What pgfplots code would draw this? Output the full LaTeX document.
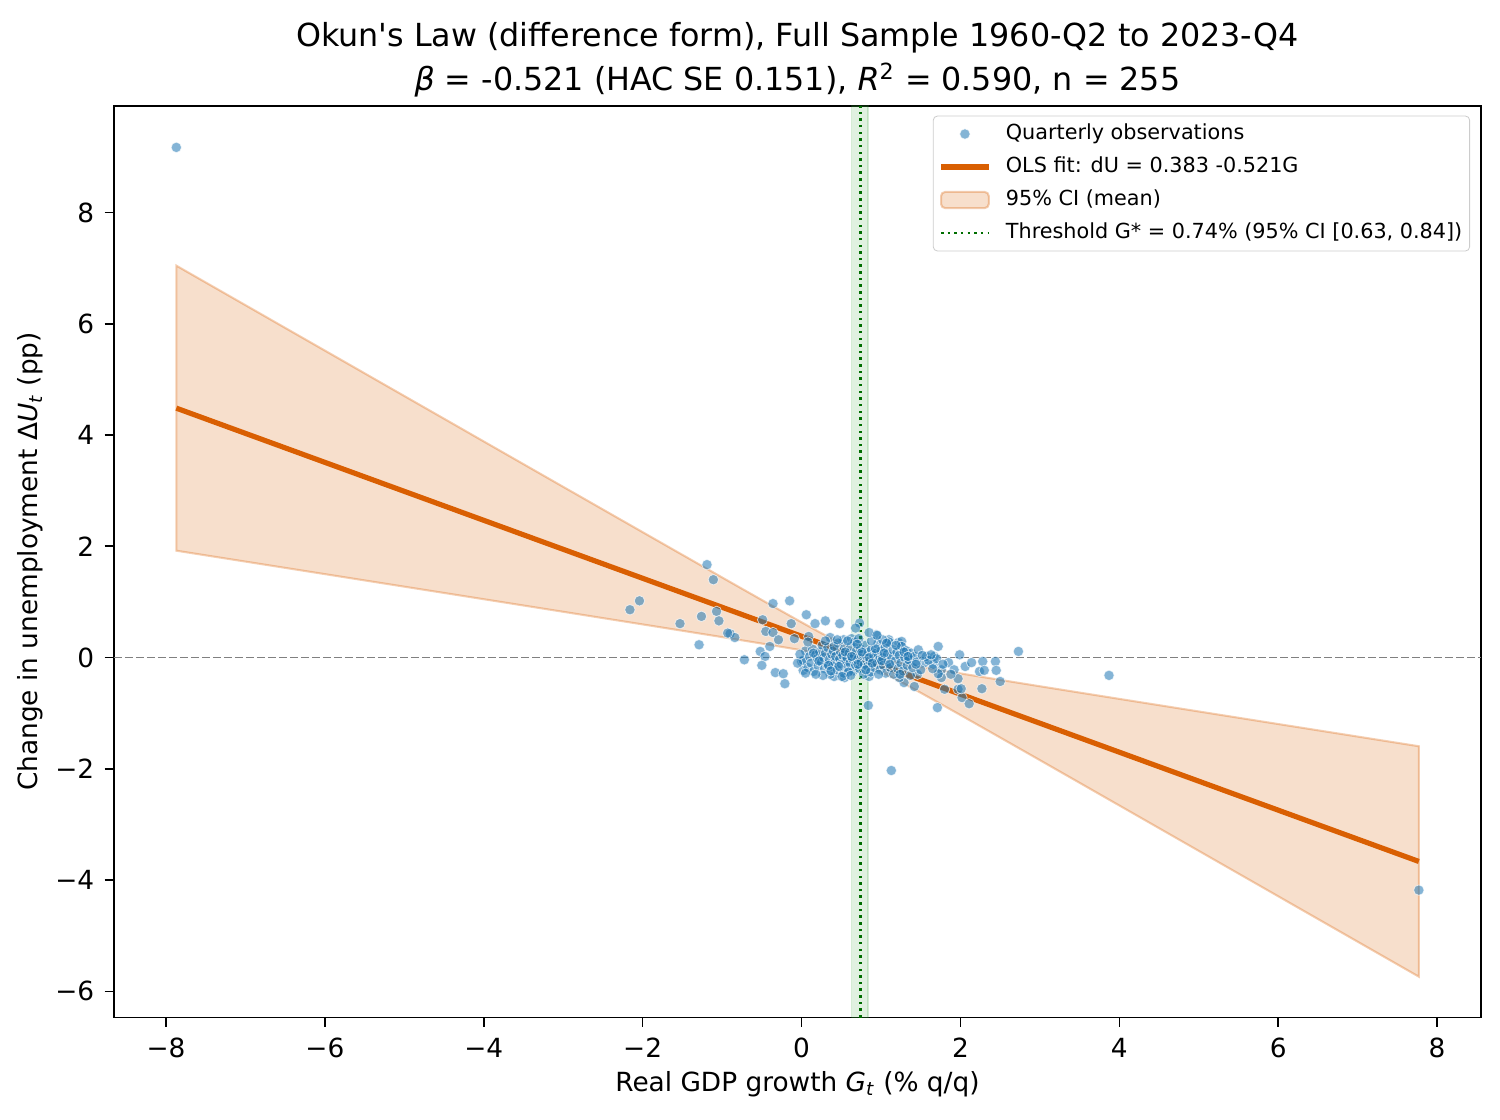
\documentclass[border=0pt]{standalone}
\usepackage{fontspec}
\setmainfont{DejaVu Sans}
\usepackage{pgfplots}
\pgfplotsset{compat=1.18}
\definecolor{tabblue}{RGB}{31,119,180}
\definecolor{okorange}{RGB}{217,95,2}
\definecolor{tabgreen}{RGB}{44,160,44}
\definecolor{dkgreen}{RGB}{0,110,0}
\definecolor{legedge}{RGB}{204,204,204}
\pgfplotsset{
  legline/.style={legend image code/.code={\draw[##1] (0pt,0pt) -- (23pt,0pt);}},
  legmark/.style={legend image code/.code={\draw[mark repeat=2,mark phase=2,##1] plot coordinates {(0pt,0pt) (11.5pt,0pt) (23pt,0pt)};}},
  legarea/.style={legend image code/.code={\draw[##1] (0pt,-3.9pt) rectangle (23pt,3.9pt);}},
}
\begin{document}
\begin{tikzpicture}
\begin{axis}[
  name=ax,
  scale only axis, width=658.6pt, height=439.3pt,
  xmin=-8.655, xmax=8.553, ymin=-6.47, ymax=9.92,
  axis line style={line width=0.8pt},
  tick style={line width=0.8pt, black},
  tick align=outside, major tick length=4.5pt, tick pos=left,
  xtick={-8,-6,-4,-2,0,2,4,6,8}, xticklabels={−8,−6,−4,−2,0,2,4,6,8},
  ytick={-6,-4,-2,0,2,4,6,8}, yticklabels={−6,−4,−2,0,2,4,6,8},
  ticklabel style={font=\fontsize{12.7}{15}\selectfont},
  xticklabel style={yshift=-2pt},
  yticklabel style={xshift=-1.5pt},
  label style={font=\fontsize{12.7}{15}\selectfont},
  xlabel={Real GDP growth \textit{G}\textsubscript{\textit{t}} (\% q/q)},
  ylabel={Change in unemployment Δ\textit{U}\textsubscript{\textit{t}} (pp)},
  xlabel style={at={(axis description cs:0.5,-0.0806)}, anchor=base},
  ylabel style={at={(axis description cs:-0.0556,0.5)}, anchor=base},
  title={Okun\textquotesingle s Law (difference form), Full Sample 1960-Q2 to 2023-Q4\\\textit{β} = -0.521 (HAC SE 0.151), \textit{R}\textsuperscript{2} = 0.590, n = 255},
  title style={font=\fontsize{15.3}{21}\selectfont, align=center, at={(axis description cs:0.5,1)}, anchor=south, inner sep=0pt, yshift=-1.9pt},
  legend style={at={(1,1)}, anchor=north east, xshift=-5.3pt, yshift=-4.8pt, draw=legedge, rounded corners=2pt, font=\fontsize{10}{12}\selectfont, cells={anchor=west}, row sep=4.6pt, column sep=6pt, inner xsep=2.5pt, inner ysep=3pt, nodes={inner xsep=1pt, inner ysep=1pt, text height=7.5pt, text depth=1.8pt}},
  legend cell align=left,
]
% CI band
\addplot[fill=okorange, fill opacity=0.2, draw=okorange, draw opacity=0.3, line width=1pt, forget plot] coordinates {
(-7.87,7.045) (-6,5.518) (-4,3.885) (-3,3.069) (-2,2.254) (-1,1.440) (-0.5,1.035) (0,0.634) (0.25,0.438) (0.5,0.251) (0.78,0.075) (1,-0.020) (1.25,-0.098) (1.5,-0.164) (2,-0.285) (2.5,-0.401) (3,-0.516) (4,-0.743) (5,-0.969) (6,-1.195) (7.77,-1.594)
(7.77,-5.736) (6,-4.291) (5,-3.475) (4,-2.659) (3,-1.844) (2.5,-1.438) (2,-1.033) (1.5,-0.633) (1.25,-0.438) (1,-0.256) (0.78,-0.121) (0.5,-0.006) (0.25,0.068) (0,0.132) (-0.5,0.252) (-1,0.368) (-2,0.596) (-3,0.823) (-4,1.049) (-6,1.500) (-7.87,1.921)} -- cycle;
% threshold CI span
\addplot[fill=tabgreen, fill opacity=0.15, draw=tabgreen, draw opacity=0.2, line width=0.8pt, forget plot] coordinates {(0.63,-6.47) (0.84,-6.47) (0.84,9.92) (0.63,9.92)} -- cycle;
% zero line
\addplot[black!50, line width=0.9pt, dash pattern=on 3.7pt off 1.6pt, forget plot] coordinates {(-8.655,0) (8.553,0)};
% scatter
\addplot[only marks, mark=*, mark size=2.5pt, mark options={fill=tabblue, fill opacity=0.55, draw=white, draw opacity=0.7, line width=0.35pt}, forget plot] coordinates {
(-7.87,9.17) (7.77,-4.18) (3.87,-0.32) (2.73,0.11) (1.13,-2.03) (0.84,-0.86) (1.71,-0.90)
(-1.19,1.67) (-1.11,1.40) (-2.04,1.02) (-2.16,0.86) (-1.53,0.61) (-1.26,0.74) (-1.07,0.83) (-1.04,0.66) (-1.29,0.23) (-0.90,0.43) (-0.84,0.36) (-0.93,0.44) (-0.72,-0.04) (-0.36,0.97) (-0.15,1.02) (-0.49,0.68) (-0.45,0.47) (-0.36,0.45) (-0.29,0.32) (-0.40,0.20) (-0.52,0.11) (-0.46,0.02) (-0.50,-0.14) (-0.33,-0.27) (-0.23,-0.29) (-0.21,-0.47) (-0.13,0.61) (-0.09,0.34) (0.06,0.77) (0.17,0.61) (0.30,0.66) (0.48,0.61) (0.09,0.38) (0.0,-0.07) (0.02,-0.23)
(0.73,0.62) (0.68,0.53) (0.94,0.41) (1.10,0.32) (1.22,0.27) (0.36,0.36) (0.53,0.32) (0.63,0.34) (0.41,-0.34) (0.54,-0.36) (0.85,-0.34)
(1.72,0.20) (1.99,0.05) (1.29,-0.45) (1.42,-0.52) (1.55,-0.09) (1.66,-0.12) (1.76,-0.22) (1.85,-0.09) (1.92,-0.22) (2.06,-0.16) (2.14,-0.09) (2.28,-0.07) (2.44,-0.07) (2.24,-0.25) (2.30,-0.23) (2.45,-0.23) (2.50,-0.43) (2.27,-0.56) (1.97,-0.38) (1.97,-0.57) (2.02,-0.72) (2.11,-0.83) (1.80,-0.57) (1.76,-0.36) (1.72,-0.29) (1.23,-0.36) (1.57,0.02) (1.67,0.02) (2.01,-0.56) (1.34,-0.04) (1.29,0.14) (1.26,0.29) (1.60,-0.05) (1.70,-0.02) (1.63,0.05) (1.78,-0.12) (1.88,-0.30) (1.65,-0.20) (1.46,-0.30)
(0.02,-0.05) (0.05,0.12) (0.08,-0.18) (0.10,0.02) (0.12,-0.10) (0.14,0.15) (0.15,-0.25) (0.18,0.05) (0.20,-0.02) (0.21,-0.15) (0.23,0.10) (0.25,-0.08) (0.26,0.22) (0.28,0.00) (0.29,-0.20) (0.30,0.08) (0.32,-0.12) (0.33,0.18) (0.35,-0.04) (0.36,-0.30) (0.38,0.06) (0.39,-0.16) (0.40,0.12) (0.42,-0.08) (0.43,0.02) (0.45,-0.22) (0.46,0.26) (0.48,-0.02) (0.49,0.10) (0.50,-0.12) (0.52,0.04) (0.53,-0.28) (0.54,0.16) (0.56,-0.06) (0.57,0.00) (0.58,-0.18) (0.60,0.08) (0.61,-0.10) (0.62,0.20) (0.64,-0.02) (0.65,-0.24) (0.66,0.05) (0.68,-0.14) (0.69,0.12) (0.70,-0.04) (0.72,0.00) (0.73,-0.20) (0.74,0.16) (0.75,-0.08) (0.77,0.06) (0.78,-0.30) (0.79,-0.12) (0.80,0.22) (0.82,0.02) (0.83,-0.16) (0.84,0.10) (0.86,-0.06) (0.87,-0.26) (0.88,0.14) (0.90,-0.02) (0.91,0.04) (0.92,-0.18) (0.94,0.08) (0.95,-0.10) (0.96,0.24) (0.98,-0.04) (0.99,-0.22) (1.00,0.12) (1.02,0.00) (1.03,-0.14) (1.05,0.18) (1.06,-0.28) (1.08,0.06) (1.09,-0.08) (1.10,0.28) (1.12,-0.18) (1.13,0.02) (1.15,0.14) (1.16,-0.30) (1.18,-0.06) (1.20,0.10) (1.21,-0.20) (1.23,0.04) (1.25,-0.10) (1.26,0.20) (1.28,-0.24) (1.30,0.00) (1.32,0.12) (1.33,-0.14) (1.35,-0.04) (1.37,-0.32) (1.38,0.08) (1.40,-0.18) (1.42,0.02) (1.45,-0.08) (1.47,0.14) (1.50,-0.22) (1.52,0.04)
(0.15,0.08) (0.22,-0.06) (0.34,-0.14) (0.41,0.20) (0.47,-0.16) (0.55,0.10) (0.59,-0.26) (0.63,0.02) (0.67,0.28) (0.71,-0.12) (0.76,0.10) (0.81,-0.22) (0.85,0.00) (0.89,-0.10) (0.93,0.16) (0.97,-0.30) (1.01,-0.06) (1.04,0.08) (1.11,-0.12) (1.19,0.22) (1.24,-0.30) (1.29,0.10) (1.34,0.02) (1.44,-0.12) (0.27,-0.32) (0.37,-0.24) (0.51,-0.34) (0.62,-0.32) (0.45,0.32) (0.58,0.30) (0.72,0.34) (0.88,0.30) (1.02,0.32) (0.18,-0.30) (0.05,-0.28) (-0.05,-0.10) (-0.02,0.06) (0.08,0.28) (0.30,0.30) (0.85,0.45) (0.95,0.40) (0.70,0.24) (1.07,0.26)
};
% OLS fit
\addplot[okorange, line width=2.5pt, forget plot] coordinates {(-7.87,4.483) (7.77,-3.665)};
% threshold
\addplot[dkgreen, line width=1.2pt, dash pattern=on 1.2pt off 2pt, forget plot] coordinates {(0.74,-6.47) (0.74,9.92)};
% legend
\addlegendimage{only marks, mark=*, mark size=2.5pt, mark options={fill=tabblue, fill opacity=0.55, draw=white, draw opacity=0.7, line width=0.35pt}, legmark}
\addlegendentry{Quarterly observations}
\addlegendimage{okorange, line width=2.5pt, legline}
\addlegendentry{OLS fit: dU = 0.383 -0.521G}
\addlegendimage{fill=okorange, fill opacity=0.2, draw=okorange, draw opacity=0.3, line width=1pt, legarea}
\addlegendentry{95\% CI (mean)}
\addlegendimage{dkgreen, line width=1.2pt, dash pattern=on 1.2pt off 2pt, legline}
\addlegendentry{Threshold G* = 0.74\% (95\% CI [0.63, 0.84])}
\end{axis}
\pgfresetboundingbox
\useasboundingbox (-54.9pt,-48.9pt) rectangle (667.75pt,490.2pt);
\end{tikzpicture}
\end{document}
